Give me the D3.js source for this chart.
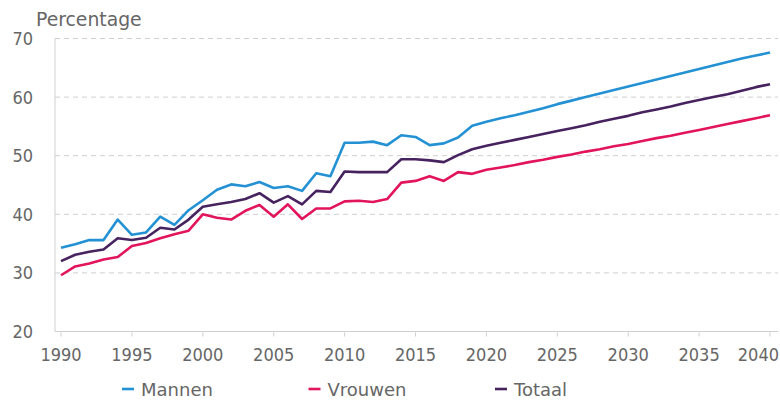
<!DOCTYPE html>
<html>
<head>
<meta charset="utf-8">
<script src="https://cdn.jsdelivr.net/npm/d3@7"></script>
<style>
  body { margin: 0; background: #fff; }
  svg text { font-family: "DejaVu Sans Condensed", "DejaVu Sans", sans-serif; font-stretch: condensed; fill: #666; }
  svg text.wide { font-family: "DejaVu Sans", sans-serif; font-stretch: normal; }
</style>
</head>
<body>
<div id="chart"></div>
<script>
const years = d3.range(1990, 2041);

const mannen = [34.3, 34.9, 35.6, 35.6, 39.1, 36.5, 36.9, 39.6, 38.2, 40.7,
  42.4, 44.2, 45.1, 44.8, 45.5, 44.5, 44.8, 44.0, 47.0, 46.5,
  52.2, 52.2, 52.4, 51.8, 53.5, 53.2, 51.8, 52.1, 53.1, 55.1,
  55.8, 56.4, 56.9, 57.5, 58.1, 58.8, 59.4, 60.0, 60.6, 61.2,
  61.8, 62.4, 63.0, 63.6, 64.2, 64.8, 65.4, 66.0, 66.6, 67.1, 67.6];

const vrouwen = [29.6, 31.1, 31.6, 32.3, 32.7, 34.6, 35.1, 35.9, 36.6, 37.2,
  40.0, 39.4, 39.1, 40.6, 41.6, 39.6, 41.7, 39.2, 41.0, 41.0,
  42.2, 42.3, 42.1, 42.6, 45.4, 45.7, 46.5, 45.7, 47.2, 46.9,
  47.6, 48.0, 48.4, 48.9, 49.3, 49.8, 50.2, 50.7, 51.1, 51.6,
  52.0, 52.5, 53.0, 53.4, 53.9, 54.4, 54.9, 55.4, 55.9, 56.4, 56.9];

const totaal = [32.0, 33.1, 33.6, 34.0, 35.9, 35.6, 36.0, 37.7, 37.4, 39.1,
  41.3, 41.7, 42.1, 42.6, 43.6, 42.0, 43.1, 41.7, 44.0, 43.8,
  47.3, 47.2, 47.2, 47.2, 49.4, 49.4, 49.2, 48.9, 50.1, 51.1,
  51.7, 52.2, 52.7, 53.2, 53.7, 54.2, 54.7, 55.2, 55.8, 56.3,
  56.8, 57.4, 57.9, 58.4, 59.0, 59.5, 60.0, 60.5, 61.1, 61.7, 62.2];

const seriesNames = ["Mannen", "Vrouwen", "Totaal"];
const seriesColors = ["#2391d3", "#e2145c", "#46225f"];
const yTicks = [20, 30, 40, 50, 60, 70];
const xTicks = d3.range(1990, 2041, 5);

const width = 780, height = 401;
const svg = d3.select("#chart").append("svg")
  .attr("width", width).attr("height", height);

const x = d3.scaleLinear().domain([1990, 2040]).range([61, 770]);
const y = d3.scaleLinear().domain([20, 70]).range([331.5, 38.5]);

// gridlines
svg.append("g")
  .selectAll("line")
  .data(yTicks.filter(d => d > 20))
  .enter().append("line")
  .attr("x1", 55).attr("x2", 778)
  .attr("y1", d => y(d)).attr("y2", d => y(d))
  .attr("stroke", "#cfcfcf")
  .attr("stroke-dasharray", "5,4");

// axes lines
svg.append("line")
  .attr("x1", 55).attr("x2", 55)
  .attr("y1", y(70)).attr("y2", y(20))
  .attr("stroke", "#cfcfcf");
svg.append("line")
  .attr("x1", 55).attr("x2", 778)
  .attr("y1", y(20)).attr("y2", y(20))
  .attr("stroke", "#cfcfcf");

// y labels
svg.append("g")
  .selectAll("text")
  .data(yTicks)
  .enter().append("text")
  .attr("x", 33)
  .attr("y", d => y(d))
  .attr("dy", "0.36em")
  .attr("text-anchor", "end")
  .attr("font-size", 18)
  .text(d => d);

svg.append("text")
  .attr("class", "wide")
  .attr("x", 36).attr("y", 26)
  .attr("font-size", 18.8)
  .text("Percentage");

// x ticks + labels
const xg = svg.append("g");
xg.selectAll("line")
  .data(xTicks)
  .enter().append("line")
  .attr("x1", d => x(d)).attr("x2", d => x(d))
  .attr("y1", y(20) + 1).attr("y2", y(20) + 5)
  .attr("stroke", "#cfcfcf");
xg.selectAll("text")
  .data(xTicks)
  .enter().append("text")
  .attr("x", d => x(d))
  .attr("y", 361)
  .attr("text-anchor", "middle")
  .attr("font-size", 18)
  .text(d => d)
  .each(function() {
    const b = this.getBBox();
    if (b.x + b.width > width - 1) {
      d3.select(this).attr("x", +d3.select(this).attr("x") - (b.x + b.width - width + 1));
    }
  });

// lines
const allSeries = [mannen, vrouwen, totaal];
const line = d3.line()
  .x((d, i) => x(years[i]))
  .y(d => y(d));

svg.append("g")
  .selectAll("path")
  .data(allSeries)
  .enter().append("path")
  .attr("d", d => line(d))
  .attr("fill", "none")
  .attr("stroke", (d, i) => seriesColors[i])
  .attr("stroke-width", 2.6)
  .attr("stroke-linejoin", "round");

// legend
const legend = svg.append("g")
  .selectAll("g")
  .data(seriesNames)
  .enter().append("g")
  .attr("transform", (d, i) => `translate(${122 + i * 186.5},0)`);
legend.append("line")
  .attr("x1", 0).attr("x2", 12)
  .attr("y1", 389).attr("y2", 389)
  .attr("stroke", (d, i) => seriesColors[i])
  .attr("stroke-width", 2.6);
legend.append("text")
  .attr("class", "wide")
  .attr("x", 19).attr("y", 396)
  .attr("font-size", 18)
  .text(d => d);
</script>
</body>
</html>
